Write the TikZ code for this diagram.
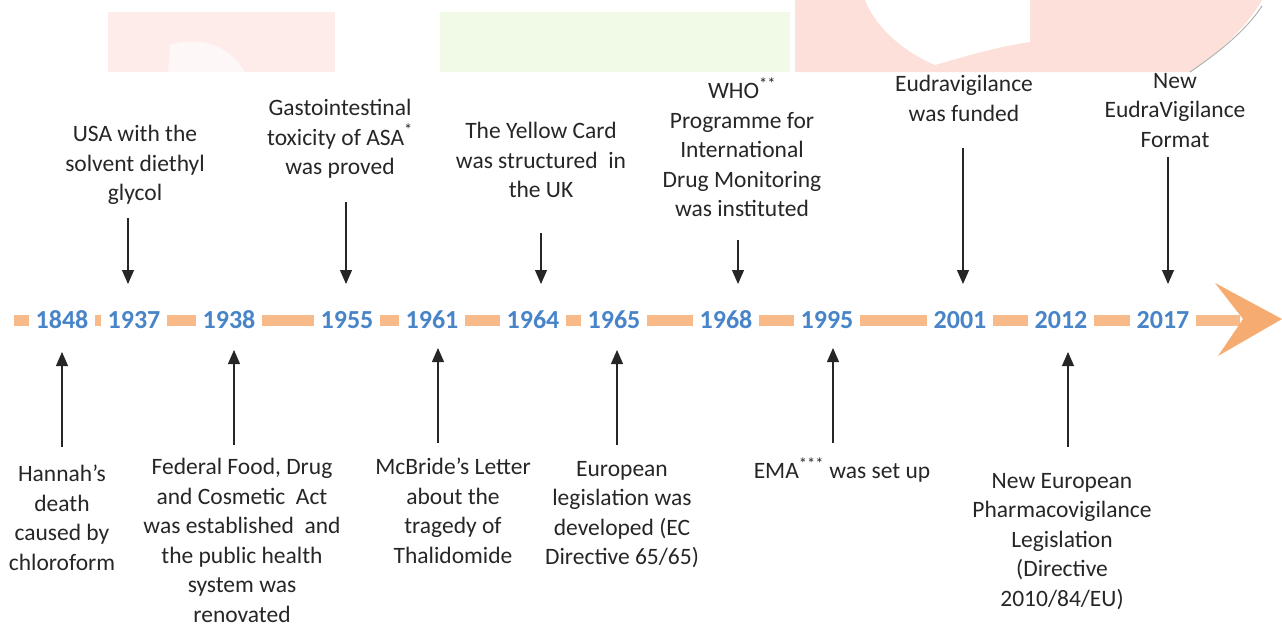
\documentclass[tikz,border=0pt]{standalone}
\usepackage{fontspec}
\setmainfont{Carlito}
\usetikzlibrary{arrows.meta}
\definecolor{bar}{RGB}{248,186,136}
\definecolor{headc}{RGB}{246,172,112}
\definecolor{yearc}{RGB}{72,132,200}
\definecolor{txt}{RGB}{38,38,38}
\definecolor{wmpink}{RGB}{253,236,234}
\definecolor{wmpink2}{RGB}{252,224,217}
\definecolor{wmgreen}{RGB}{240,250,230}
\tikzset{
  year/.style={font=\fontsize{26}{30}\selectfont\bfseries, text=yearc, fill=white, inner xsep=7pt, inner ysep=4pt},
  event/.style={font=\fontsize{23.5}{29.5}\selectfont, text=txt, align=center, inner sep=0pt},
  evarrow/.style={draw=black!85, line width=1.1pt, -{Triangle[width=12pt,length=14pt]}},
}
\begin{document}
\begin{tikzpicture}[x=1pt,y=-1pt]
\useasboundingbox (0,0) rectangle (1282,627);
% faint background watermark
\fill[wmpink] (108,12) rectangle (335,72);
\fill[white!60!wmpink] (170,45) .. controls (190,38) and (225,38) .. (245,72) -- (168,72) -- cycle;
\fill[wmgreen] (440,12) rectangle (790,72);
\fill[wmpink2] (795,0) -- (1262,0) .. controls (1245,30) and (1215,55) .. (1190,72) -- (795,72) -- cycle;
\fill[white] (865,0) -- (1030,0) -- (1030,42) .. controls (990,48) and (960,58) .. (935,65) .. controls (900,50) and (875,25) .. (865,0) -- cycle;
\draw[black!30, line width=1pt] (1262,6) .. controls (1245,32) and (1215,55) .. (1190,72);
% timeline bar
\coordinate (barstart) at (14,320);
\coordinate (barend) at (1240,320);
\draw[bar, line width=11pt] (barstart) -- (barend);
\fill[headc] (1215,283) -- (1282,319) -- (1218,356) -- (1243,319) -- cycle;
% years
\node[year] (y1848) at (62,320) {1848};
\node[year] (y1937) at (134,320) {1937};
\node[year] (y1938) at (229,320) {1938};
\node[year] (y1955) at (347,320) {1955};
\node[year] (y1961) at (432,320) {1961};
\node[year] (y1964) at (533,320) {1964};
\node[year] (y1965) at (614,320) {1965};
\node[year] (y1968) at (726,320) {1968};
\node[year] (y1995) at (827,320) {1995};
\node[year] (y2001) at (960,320) {2001};
\node[year] (y2012) at (1061,320) {2012};
\node[year] (y2017) at (1163,320) {2017};
% top events
\node[event, anchor=north] (t1937) at (135,125) {USA with the\\solvent diethyl\\glycol};
\node[event, anchor=north] (t1955) at (340,99) {Gastointestinal\\toxicity of ASA\textsuperscript{*}\\was proved};
\node[event, anchor=north] (t1964) at (541,122) {The Yellow Card\\was structured\ \ in\\the UK};
\node[event, anchor=north] (t1968) at (742,78) {WHO\textsuperscript{**}\\Programme for\\International\\Drug Monitoring\\was instituted};
\node[event, anchor=north] (t2001) at (964,75) {Eudravigilance\\was funded};
\node[event, anchor=north] (t2017) at (1175,73) {New\\EudraVigilance\\Format};
% bottom events
\node[event, anchor=north] (b1848) at (62,465) {Hannah’s\\death\\caused by\\chloroform};
\node[event, anchor=north] (b1938) at (242,458) {Federal Food, Drug\\and Cosmetic\ \ Act\\was established\ \ and\\the public health\\system was\\renovated};
\node[event, anchor=north] (b1961) at (453,458) {McBride’s Letter\\about the\\tragedy of\\Thalidomide};
\node[event, anchor=north] (b1965) at (622,461) {European\\legislation was\\developed (EC\\Directive 65/65)};
\node[event, anchor=north] (b1995) at (842,458) {EMA\textsuperscript{***} was set up};
\node[event, anchor=north] (b2012) at (1062,473) {New European\\Pharmacovigilance\\Legislation\\(Directive\\2010/84/EU)};
% arrow end points
\coordinate (s1937) at (128,218); \coordinate (e1937) at (128,284);
\coordinate (s1955) at (346,202); \coordinate (e1955) at (346,284);
\coordinate (s1964) at (541,233); \coordinate (e1964) at (541,284);
\coordinate (s1968) at (738,240); \coordinate (e1968) at (738,284);
\coordinate (s2001) at (963,148); \coordinate (e2001) at (963,284);
\coordinate (s2017) at (1168,157); \coordinate (e2017) at (1168,284);
\coordinate (s1848) at (62,447); \coordinate (e1848) at (62,352);
\coordinate (s1938) at (234,445); \coordinate (e1938) at (234,350);
\coordinate (s1961) at (438,443); \coordinate (e1961) at (438,348);
\coordinate (s1965) at (617,445); \coordinate (e1965) at (617,350);
\coordinate (s1995) at (833,443); \coordinate (e1995) at (833,348);
\coordinate (s2012) at (1068,447); \coordinate (e2012) at (1068,352);
\foreach \k in {1937,1955,1964,1968,2001,2017,1848,1938,1961,1965,1995,2012}
  \draw[evarrow] (s\k) -- (e\k);
\end{tikzpicture}
\end{document}
